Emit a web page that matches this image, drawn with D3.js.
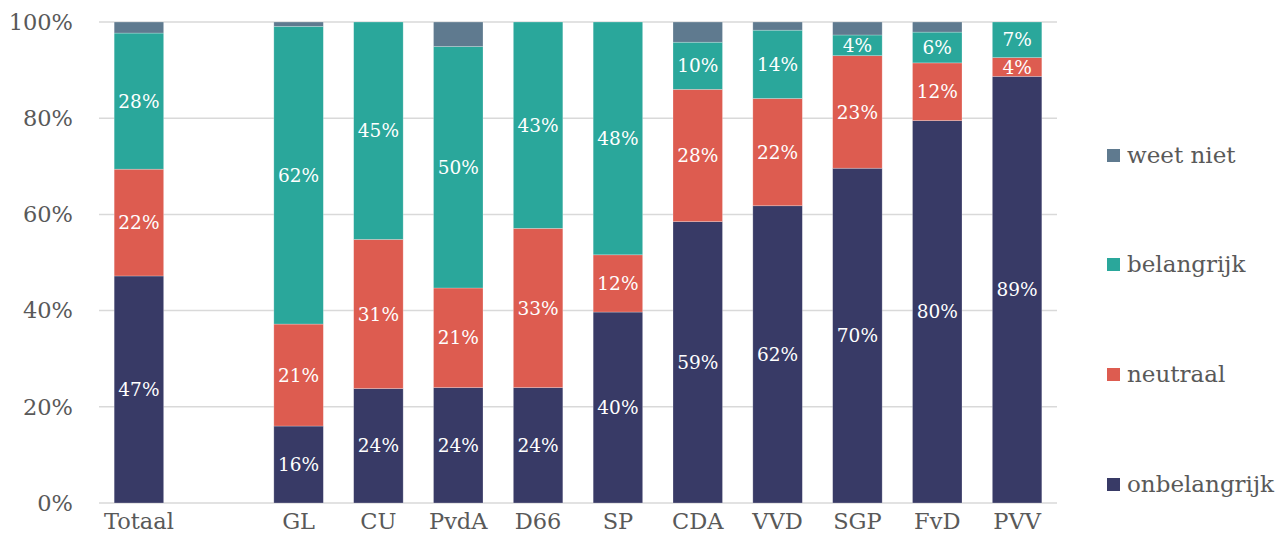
<!DOCTYPE html>
<html lang="nl">
<head>
	<meta charset="UTF-8">
	<title>stacked bars</title>
	<style>
		* { margin: 0; padding: 0; }
		body { background: #fff; }
		svg { display: block; font-family: "DejaVu Serif", "Liberation Serif", serif; }
	</style>
</head>
<body>
	<script src="https://cdn.jsdelivr.net/npm/d3@7"></script>
	<script>
		// categorieën ("" is de lege plek na Totaal)
		var categories = ['Totaal', '', 'GL', 'CU', 'PvdA', 'D66', 'SP', 'CDA', 'VVD', 'SGP', 'FvD', 'PVV'];
		var seriesNames = ['onbelangrijk', 'neutraal', 'belangrijk', 'weet niet'];
		var colors = ['#383a66', '#dd5c50', '#2aa79b', '#5f7a8f'];

		var onbelangrijk = [47.2, null, 16.0, 23.8, 24.0, 24.0, 39.7, 58.5, 61.8, 69.6, 79.5, 88.7];
		var neutraal     = [22.2, null, 21.2, 31.0, 20.7, 33.1, 11.9, 27.5, 22.3, 23.4, 12.0, 3.9];
		var belangrijk   = [28.3, null, 61.9, 45.2, 50.2, 42.9, 48.4, 9.8, 14.2, 4.3, 6.4, 7.4];
		var weetNiet     = [2.3, null, 0.9, 0, 5.1, 0, 0, 4.2, 1.7, 2.7, 2.1, 0];

		var yTicks = [0, 20, 40, 60, 80, 100];

		var width = 1283, height = 546;
		var padding = { top: 22, bottom: 43, left: 99, right: 226 };

		var svg = d3.select('body').append('svg').attr('width', width).attr('height', height);

		var xScale = d3.scaleBand().domain(d3.range(categories.length))
			.range([padding.left, width - padding.right]).paddingInner(0.38).paddingOuter(0.19);
		var yScale = d3.scaleLinear().domain([0, 100]).range([height - padding.bottom, padding.top]);

		// rasterlijnen
		svg.append('g')
			.selectAll('line')
			.data(yTicks)
			.enter()
			.append('line')
			.attr('x1', padding.left)
			.attr('x2', width - padding.right)
			.attr('y1', function (d) { return yScale(d); })
			.attr('y2', function (d) { return yScale(d); })
			.attr('stroke', '#d9d9d9')
			.attr('stroke-width', 1.5);

		// y-as labels
		svg.append('g')
			.attr('transform', 'translate(' + (padding.left - 23) + ',0)')
			.call(d3.axisLeft(yScale).tickValues(yTicks).tickSize(0).tickFormat(function (d) { return d + '%'; }))
			.call(function (g) { g.select('.domain').remove(); })
			.selectAll('text')
			.style('font-family', '"DejaVu Serif", serif')
			.style('font-size', '22.5px')
			.style('fill', '#595959');

		// x-as labels
		svg.append('g')
			.attr('transform', 'translate(0,' + (height - padding.bottom) + ')')
			.call(d3.axisBottom(xScale).tickSize(0).tickFormat(function (i) { return categories[i]; }))
			.call(function (g) { g.select('.domain').remove(); })
			.selectAll('text')
			.attr('dy', '1.0em')
			.style('font-family', '"DejaVu Serif", serif')
			.style('font-size', '22.5px')
			.style('fill', '#595959');

		// gestapelde data
		var rows = categories.map(function (c, i) {
			return { i: i, onbelangrijk: onbelangrijk[i] || 0, neutraal: neutraal[i] || 0, belangrijk: belangrijk[i] || 0, 'weet niet': weetNiet[i] || 0, empty: c === '' };
		}).filter(function (d) { return !d.empty; });

		var stacked = d3.stack().keys(seriesNames)(rows);

		var layers = svg.selectAll('.layer')
			.data(stacked)
			.enter()
			.append('g')
			.classed('layer', true)
			.attr('fill', function (d, i) { return colors[i]; });

		layers.selectAll('rect')
			.data(function (d) { return d; })
			.enter()
			.append('rect')
			.attr('x', function (d) { return xScale(d.data.i); })
			.attr('width', xScale.bandwidth())
			.attr('y', function (d) { return yScale(Math.min(100, d[1])); })
			.attr('height', function (d) { return Math.max(0, yScale(d[0]) - yScale(Math.min(100, d[1]))); })
			.attr('stroke', '#fff')
			.attr('stroke-opacity', 0.35)
			.attr('stroke-width', 0.7);

		// labels in de balken (niet voor "weet niet")
		layers.filter(function (d) { return d.key !== 'weet niet'; })
			.selectAll('text')
			.data(function (d) { return d.map(function (p) { return { p: p, key: d.key }; }); })
			.enter()
			.append('text')
			.attr('x', function (d) { return xScale(d.p.data.i) + xScale.bandwidth() / 2; })
			.attr('y', function (d) { return (yScale(d.p[0]) + yScale(Math.min(100, d.p[1]))) / 2; })
			.attr('text-anchor', 'middle')
			.attr('dy', '0.36em')
			.style('font-size', '18.5px')
			.style('fill', '#fff')
			.text(function (d) { return Math.round(d.p.data[d.key]) + '%'; });

		// legenda
		var legendY = [155, 264, 374, 484];
		var legend = svg.selectAll('.legend')
			.data(seriesNames.slice().reverse())
			.enter()
			.append('g')
			.classed('legend', true)
			.attr('transform', function (d, i) { return 'translate(1107,' + legendY[i] + ')'; });

		legend.append('rect')
			.attr('x', 0)
			.attr('y', -6)
			.attr('width', 13)
			.attr('height', 13)
			.attr('fill', function (d) { return colors[seriesNames.indexOf(d)]; });

		legend.append('text')
			.attr('x', 20)
			.attr('dy', '0.36em')
			.style('font-size', '23px')
			.style('fill', '#595959')
			.text(function (d) { return d; });
	</script>
</body>
</html>
